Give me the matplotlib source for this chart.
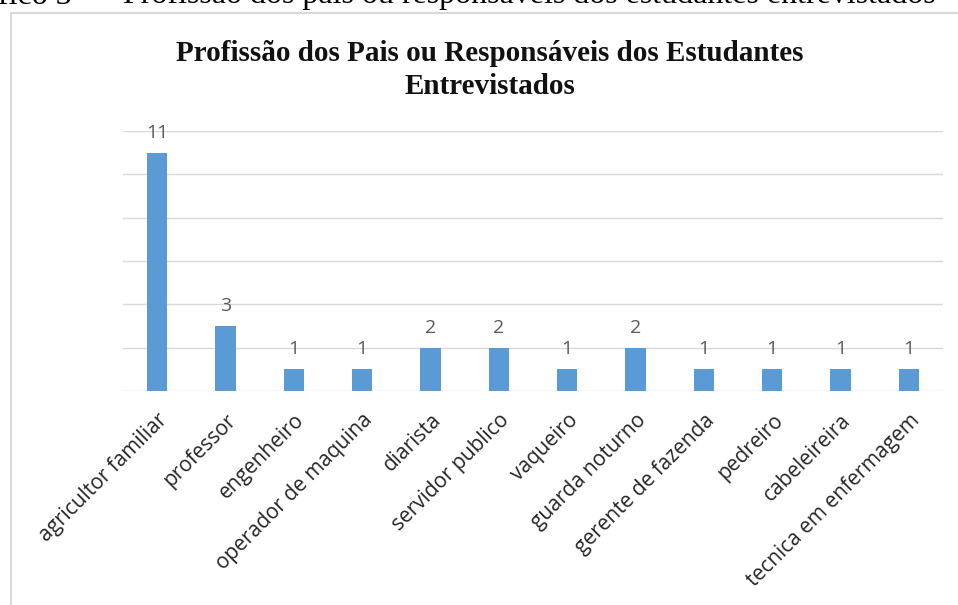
import matplotlib
matplotlib.use("Agg")
import matplotlib.pyplot as plt
from matplotlib.patches import Rectangle

categories = ["agricultor familiar", "professor", "engenheiro", "operador de maquina",
              "diarista", "servidor publico", "vaqueiro", "guarda noturno",
              "gerente de fazenda", "pedreiro", "cabeleireira", "tecnica em enfermagem"]
values = [11, 3, 1, 1, 2, 2, 1, 2, 1, 1, 1, 1]

title = "Profissão dos Pais ou Responsáveis dos Estudantes\nEntrevistados"
caption_num = "Gráfico 3"
caption_text = "Profissão dos pais ou responsáveis dos estudantes entrevistados"

W, H = 958, 605
fig = plt.figure(figsize=(W / 100, H / 100), dpi=100)

# chart frame
fig.patches.append(Rectangle((10.5 / W, -0.01), 1.0, 1 - 12.5 / H + 0.01,
                             transform=fig.transFigure, fill=False,
                             edgecolor="#d9d9d9", linewidth=1.5, zorder=0))

# caption cut off at top (as in the reference)
cap_kw = dict(va="baseline", fontsize=23, family="Liberation Serif", color="black")
fig.text(72 / W, 1 - 3.5 / H, caption_num, ha="right", **cap_kw)
fig.text(97 / W, 1 - 3.5 / H, "–", ha="center", **cap_kw)
fig.text(123 / W, 1 - 3.5 / H, caption_text, ha="left", **cap_kw)

ax = fig.add_axes([123 / W, 1 - 391 / H, (943 - 123) / W, (391 - 131) / H])
x = range(len(categories))
ax.bar(x, values, width=0.3, color="#5b9bd5", zorder=3)
ax.set_xlim(-0.5, len(categories) - 0.5)
ax.set_ylim(0, 12)
ax.set_yticks(range(0, 13, 2))
ax.yaxis.grid(True, color="#d9d9d9", linewidth=1)
ax.set_axisbelow(True)
ax.tick_params(axis="y", left=False, labelleft=False)
ax.tick_params(axis="x", bottom=False, pad=10)
for s in ["top", "right", "left", "bottom"]:
    ax.spines[s].set_visible(False)
ax.set_xticks(list(x))
ax.set_xticklabels(categories, rotation=45, ha="right", va="top",
                   rotation_mode="anchor", fontsize=15, family="Open Sans",
                   color="#262626")
for xi, v in zip(x, values):
    ax.annotate(str(v), (xi, v), xytext=(0, 8), textcoords="offset points",
                ha="center", va="bottom", fontsize=14, family="Open Sans",
                color="#595959")

fig.text(490 / W, 1 - 70 / H, title, ha="center", va="center",
         fontsize=21, fontweight="bold", family="Liberation Serif",
         color="#111111", linespacing=1.3)

fig.savefig("out.png", dpi=100)
